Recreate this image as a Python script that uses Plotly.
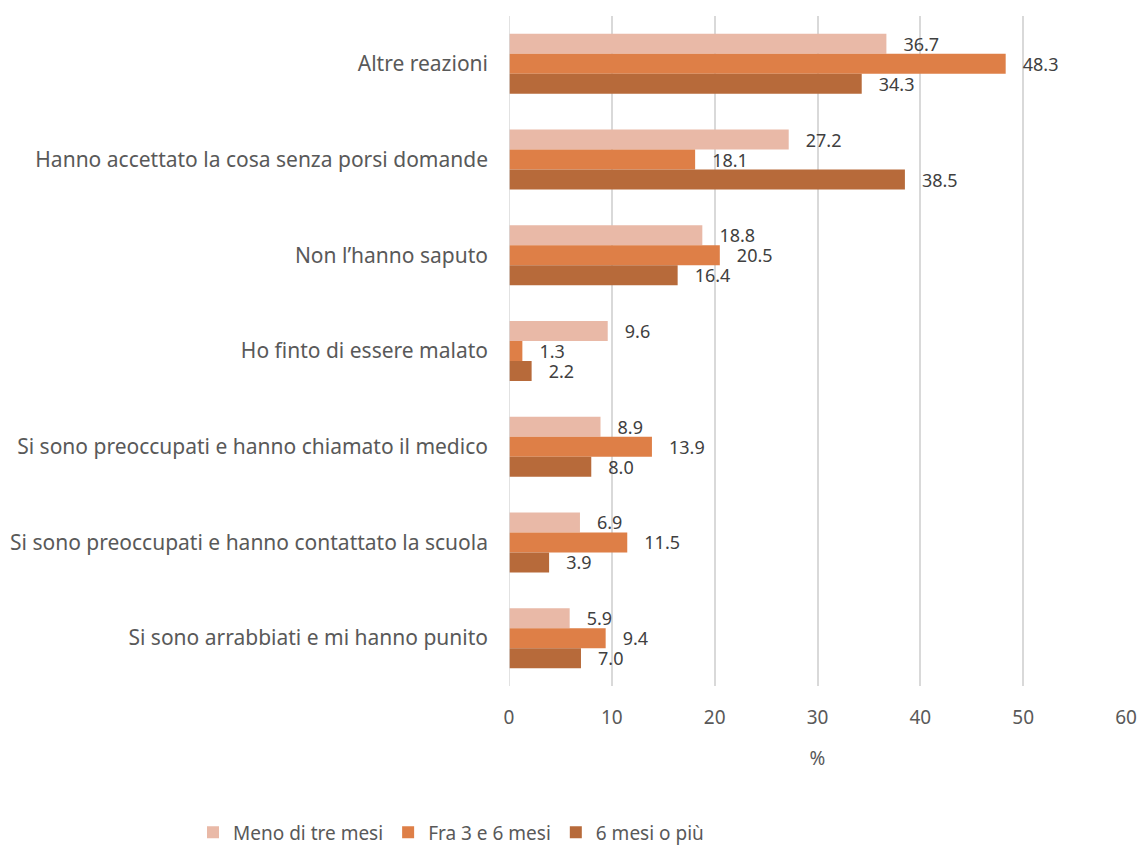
import plotly.graph_objects as go

categories = [
    "Altre reazioni",
    "Hanno accettato la cosa senza porsi domande",
    "Non l’hanno saputo",
    "Ho finto di essere malato",
    "Si sono preoccupati e hanno chiamato il medico",
    "Si sono preoccupati e hanno contattato la scuola",
    "Si sono arrabbiati e mi hanno punito",
]
meno_tre = [36.7, 27.2, 18.8, 9.6, 8.9, 6.9, 5.9]
fra_3_6 = [48.3, 18.1, 20.5, 1.3, 13.9, 11.5, 9.4]
sei_piu = [34.3, 38.5, 16.4, 2.2, 8.0, 3.9, 7.0]
series_names = ["Meno di tre mesi", "Fra 3 e 6 mesi", "6 mesi o più"]
colors = ["#E9B9A7", "#DE7F47", "#B76A3A"]
x_ticks = [0, 10, 20, 30, 40, 50, 60]

FONT = "Noto Sans"
GAP = "\u00a0\u00a0\u00a0"
fig = go.Figure()
for name, vals, col in zip(series_names, [meno_tre, fra_3_6, sei_piu], colors):
    fig.add_trace(go.Bar(
        y=categories, x=vals, name=name, orientation="h",
        marker=dict(color=col, line=dict(width=0)),
        text=[f"{GAP}{v:.1f}" for v in vals], textposition="outside",
        constraintext="none",
        textfont=dict(family=FONT, size=18, color="#404040"),
        cliponaxis=False,
    ))

fig.update_layout(
    width=1139, height=848,
    paper_bgcolor="white", plot_bgcolor="white",
    margin=dict(l=509, r=13, t=16, b=162, autoexpand=False),
    barmode="group", bargap=0.373, bargroupgap=0,
    font=dict(family=FONT, size=19, color="#595959"),
    xaxis=dict(
        range=[0, 60], tickvals=x_ticks, showgrid=True, gridcolor="#D9D9D9", gridwidth=1.5,
        zeroline=False, showline=False, ticks="", automargin=False,
        ticklabelstandoff=18,
        tickfont=dict(family=FONT, size=19, color="#595959"),
        title=dict(text="%", font=dict(family=FONT, size=19, color="#595959"), standoff=22),
    ),
    yaxis=dict(
        autorange="reversed", showgrid=False, showline=False, ticks="", automargin=False,
        ticklabelstandoff=20,
        tickfont=dict(family=FONT, size=21, color="#595959"),
    ),
    legend=dict(
        orientation="h", x=-0.094, xanchor="center", y=-0.19, yanchor="top",
        font=dict(family=FONT, size=19, color="#595959"),
        traceorder="normal", itemwidth=30,
    ),
    showlegend=True,
)
fig.add_shape(type="line", xref="x", yref="paper", x0=0, x1=0, y0=0, y1=1,
              line=dict(color="#D9D9D9", width=1.5))

fig.write_html("out.html", config={"displayModeBar": False},
               post_script="document.body.style.margin='0';")
